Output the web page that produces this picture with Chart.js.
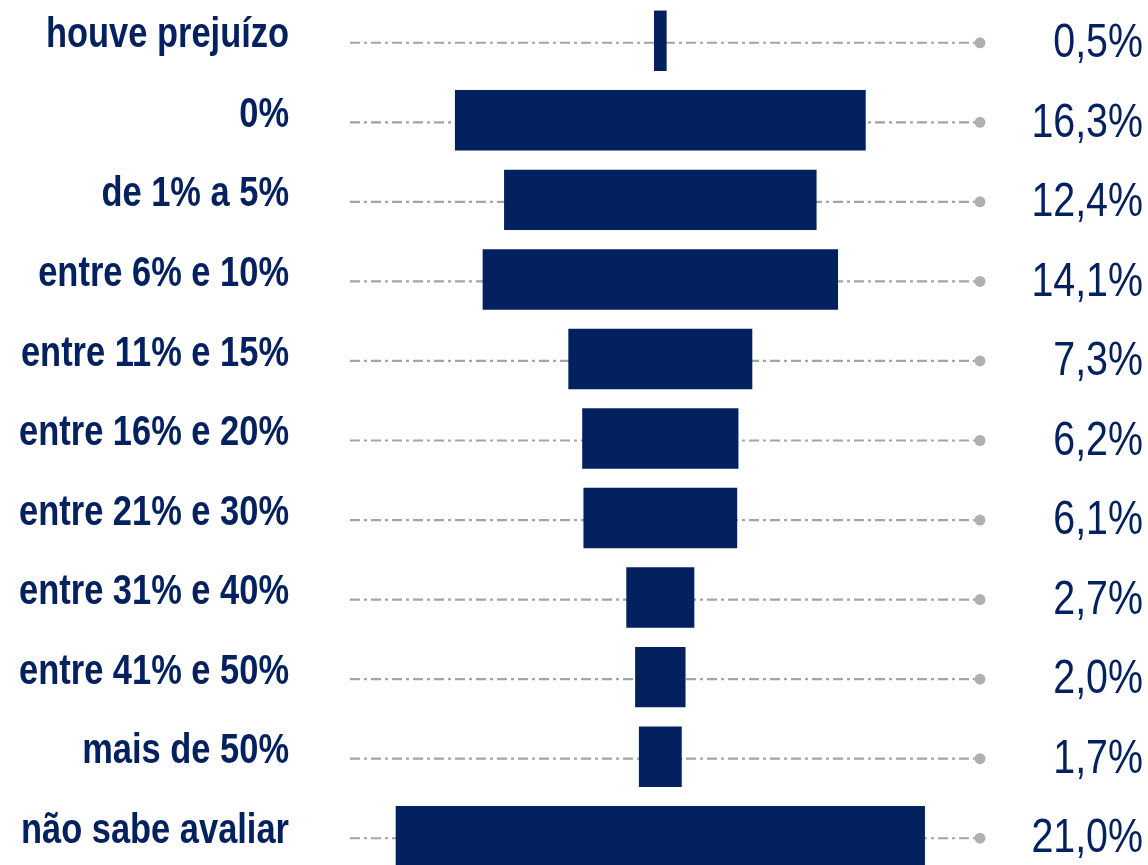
<!DOCTYPE html>
<html>
<head>
<meta charset="utf-8">
<script src="https://cdn.jsdelivr.net/npm/chart.js@4.4.1/dist/chart.umd.min.js"></script>
<style>
  html, body { margin: 0; padding: 0; background: #fff; overflow: hidden; }
  .wrap { position: relative; width: 1148px; height: 880px; }
</style>
</head>
<body>
<div class="wrap"><canvas id="funil" width="1148" height="880"></canvas></div>
<script>
// faixas de margem e participação de cada uma (%)
const faixas = [
  'houve prejuízo', '0%', 'de 1% a 5%', 'entre 6% e 10%', 'entre 11% e 15%',
  'entre 16% e 20%', 'entre 21% e 30%', 'entre 31% e 40%', 'entre 41% e 50%',
  'mais de 50%', 'não sabe avaliar'
];
const percentuais = [0.5, 16.3, 12.4, 14.1, 7.3, 6.2, 6.1, 2.7, 2.0, 1.7, 21.0];
const rotulosValor = ['0,5%', '16,3%', '12,4%', '14,1%', '7,3%', '6,2%', '6,1%', '2,7%', '2,0%', '1,7%', '21,0%'];

const AZUL = '#03215f';
const CINZA = '#a4a4a4';
const FONTE = '"Liberation Sans", Arial, sans-serif';

// texto "estreito": Liberation Sans comprimida na horizontal
function textoEstreito(ctx, txt, x, y) {
  ctx.save();
  ctx.translate(x, y);
  ctx.scale(0.82, 1);
  ctx.fillText(txt, 0, 0);
  ctx.restore();
}

// linhas traço-ponto atrás das barras, com bolinha na ponta
const linhasGuia = {
  id: 'linhasGuia',
  beforeDatasetsDraw(chart) {
    const { ctx, scales: { y } } = chart;
    ctx.save();
    faixas.forEach((_, i) => {
      const py = y.getPixelForValue(i) + 2;
      ctx.strokeStyle = CINZA;
      ctx.lineWidth = 2.2;
      ctx.setLineDash([10, 4, 3, 4]);
      ctx.beginPath();
      ctx.moveTo(350, py);
      ctx.lineTo(975, py);
      ctx.stroke();
      ctx.setLineDash([]);
      ctx.fillStyle = '#b0b0b0';
      ctx.beginPath();
      ctx.arc(980, py, 5.5, 0, Math.PI * 2);
      ctx.fill();
    });
    ctx.restore();
  },
  afterDatasetsDraw(chart) {
    const { ctx, scales: { y } } = chart;
    ctx.save();
    ctx.fillStyle = AZUL;
    ctx.textBaseline = 'middle';
    ctx.textAlign = 'right';
    faixas.forEach((nome, i) => {
      const py = y.getPixelForValue(i);
      ctx.font = 'bold 42px ' + FONTE;
      textoEstreito(ctx, nome, 289, py - 5);
      ctx.font = '48px ' + FONTE;
      textoEstreito(ctx, rotulosValor[i], 1143, py + 3);
    });
    ctx.restore();
  }
};

new Chart(document.getElementById('funil').getContext('2d'), {
  type: 'bar',
  data: {
    labels: faixas,
    datasets: [{
      data: percentuais.map(v => [-v / 2, v / 2]),
      backgroundColor: AZUL,
      borderWidth: 0,
      barPercentage: 0.76,
      categoryPercentage: 1
    }]
  },
  options: {
    indexAxis: 'y',
    responsive: false,
    animation: false,
    layout: { padding: { top: 1, bottom: 4, left: 0, right: 0 } },
    plugins: { legend: { display: false }, tooltip: { enabled: false } },
    scales: {
      x: { display: false, min: -26.2, max: 19.35 },
      y: { display: false }
    }
  },
  plugins: [linhasGuia]
});
</script>
</body>
</html>
